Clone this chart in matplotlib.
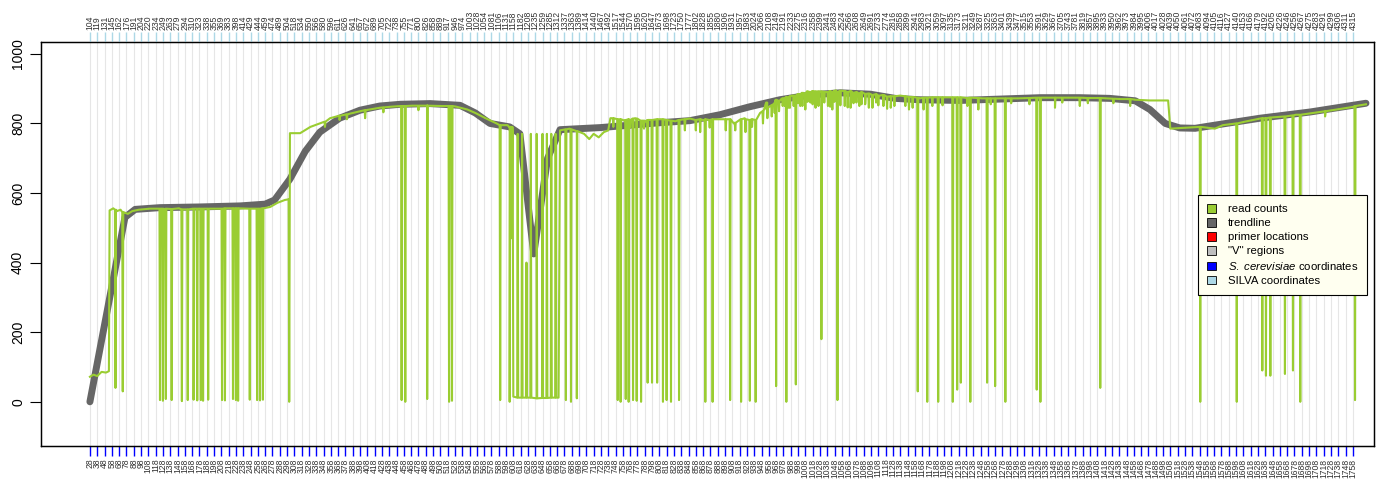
import numpy as np
import matplotlib.pyplot as plt
from matplotlib.patches import Patch

plt.rcParams['font.family'] = ['Liberation Sans', 'DejaVu Sans']
plt.rcParams['mathtext.fontset'] = 'custom'
plt.rcParams['mathtext.it'] = 'Liberation Sans:italic'
plt.rcParams['mathtext.rm'] = 'Liberation Sans'

# bottom axis: S. cerevisiae coordinates, top axis: SILVA coordinates
sc_ticks = list(range(28, 1759, 10))
silva_labels = [
    104, 119, 131, 145, 162, 176, 191, 204, 220, 234,
    249, 263, 279, 294, 310, 323, 338, 355, 369, 383,
    398, 414, 429, 444, 459, 474, 489, 504, 518, 534,
    550, 566, 580, 596, 611, 626, 641, 657, 672, 689,
    705, 722, 738, 755, 771, 800, 826, 858, 889, 917,
    946, 974, 1003, 1028, 1054, 1081, 1106, 1131, 1158, 1182,
    1208, 1235, 1259, 1285, 1312, 1337, 1363, 1389, 1414, 1440,
    1467, 1492, 1517, 1544, 1570, 1595, 1620, 1647, 1673, 1698,
    1723, 1750, 1777, 1802, 1828, 1855, 1880, 1906, 1931, 1957,
    1983, 2024, 2066, 2108, 2149, 2191, 2233, 2275, 2316, 2358,
    2399, 2441, 2483, 2524, 2566, 2608, 2649, 2691, 2733, 2774,
    2816, 2858, 2899, 2941, 2983, 3021, 3059, 3097, 3135, 3173,
    3211, 3249, 3287, 3325, 3363, 3401, 3439, 3477, 3515, 3553,
    3591, 3629, 3667, 3705, 3743, 3781, 3819, 3857, 3895, 3933,
    3950, 3962, 3973, 3984, 3995, 4006, 4017, 4028, 4039, 4050,
    4061, 4072, 4083, 4094, 4105, 4116, 4127, 4140, 4153, 4166,
    4179, 4192, 4205, 4226, 4246, 4256, 4267, 4275, 4283, 4291,
    4299, 4306, 4311, 4315,
]

# trendline
trend_x = [28, 76, 90, 124, 179, 234, 268, 281, 302, 323, 343, 370, 398, 425,
           453, 494, 535, 556, 576, 603, 617, 636, 655, 672, 699, 727, 768,
           809, 850, 891, 932, 973, 1015, 1056, 1097, 1131, 1165, 1220, 1275,
           1330, 1384, 1425, 1460, 1480, 1501, 1521, 1542, 1569, 1631, 1700, 1776]
trend_y = [0, 530, 553, 558, 560, 563, 568, 580, 640, 720, 775, 815, 838, 850,
           855, 857, 852, 830, 800, 790, 770, 425, 700, 782, 785, 788, 795,
           802, 808, 825, 848, 868, 882, 888, 884, 872, 868, 866, 870,
           874, 874, 872, 865, 840, 800, 787, 786, 795, 815, 833, 858]

# read counts: the running level
reads_x = [28, 33, 38, 44, 50, 54, 55, 60, 65, 70, 74, 80, 86, 95, 110, 130, 150,
           170, 200, 230, 260, 275, 285, 295, 300,
           302, 316, 330, 343, 357, 370, 384, 398, 411, 425, 440, 453, 470, 490,
           510, 530, 545, 556, 570, 585, 600, 603, 607,
           608, 640, 670,
           672, 685, 695, 705, 712, 718, 725, 732, 738,
           741, 760, 775, 790, 810, 830, 850, 870, 890, 910, 925, 946,
           960, 975, 990, 1010, 1030, 1050, 1070, 1090, 1110, 1125, 1138,
           1165, 1200, 1250, 1300, 1350, 1400, 1440, 1460, 1480, 1505,
           1508, 1569, 1580, 1610, 1640, 1680, 1720, 1760, 1776]
reads_y = [72, 78, 74, 86, 84, 88, 550, 556, 548, 552, 545, 540, 548, 552, 555, 550, 556,
           552, 555, 556, 555, 560, 572, 580, 582,
           772, 772, 790, 800, 815, 822, 828, 835, 840, 845, 848, 850, 851, 852,
           850, 848, 840, 830, 815, 800, 795, 790, 775,
           15, 10, 12,
           780, 785, 778, 770, 755, 770, 760, 775, 780,
           815, 808, 815, 805, 812, 806, 814, 808, 812, 800, 815, 830,
           850, 870, 880, 892, 890, 895, 888, 885, 880, 875, 880,
           872, 875, 872, 872, 874, 873, 870, 868, 866, 866,
           785, 785, 795, 805, 815, 825, 835, 848, 855]

# single positions where the read count jumps away from the level
drop_x = [63, 73, 124, 128, 132, 140, 154, 162, 170, 175, 180, 183, 190, 209,
          213, 224, 228, 231, 247, 257, 261, 265, 301,
          350, 370, 380, 405, 430, 455, 460, 478, 490, 520, 524, 590, 603,
          606, 614, 620, 626, 632, 640, 648, 654, 660, 666,
          680, 687, 695,
          745, 751, 755, 762, 766, 768, 772, 777, 783, 787, 792, 798, 805, 813,
          818, 824, 835, 843, 858, 864, 871, 877, 881, 899, 905, 912, 920, 926,
          932, 935, 940,
          950, 956, 962, 966, 972, 980, 985, 992, 998, 1004, 1011, 1018, 1026,
          1034, 1042, 1048, 1056, 1066, 1074, 1082, 1090, 1100, 1108, 1120, 1130,
          955, 968, 977, 982, 987, 995, 1001, 1008, 1015, 1022, 1030, 1039,
          1045, 1052, 1062, 1070, 1078, 1085, 1095, 1105, 1115, 1125,
          1145, 1155, 1170, 1182, 1196, 1230, 1262, 1290, 1315, 1360, 1395, 1430,
          1150, 1162, 1175, 1190, 1210, 1216, 1221, 1234, 1245, 1257, 1268,
          1282, 1325, 1330, 1350, 1384, 1412, 1453,
          1549, 1599, 1634, 1639, 1645, 1665, 1676, 1686, 1720, 1761]
drop_top = [552, 545, 555, 555, 555, 554, 553, 553, 555, 555, 555, 555, 555, 555,
            556, 556, 556, 556, 555, 555, 555, 556, 582,
            805, 822, 826, 838, 846, 850, 850, 851, 851, 850, 850, 795, 790,
            790, 12, 12, 12, 12, 10, 11, 11, 12, 12,
            783, 783, 778,
            815, 812, 812, 810, 812, 810, 814, 814, 808, 808, 810, 810, 812, 812,
            810, 808, 810, 812, 810, 812, 812, 810, 812, 812, 812, 802, 812, 812,
            810, 812, 810,
            835, 845, 852, 858, 865, 873, 875, 880, 884, 888, 892, 893, 892,
            891, 893, 894, 894, 890, 888, 886, 885, 882, 880, 877, 878,
            860, 868, 872, 876, 878, 880, 884, 886, 890, 892, 892, 890,
            890, 890, 893, 893, 890, 890, 886, 884, 882, 878,
            878, 876, 874, 875, 875, 873, 872, 872, 873, 874, 873, 871,
            876, 874, 874, 875, 875, 875, 875, 874, 873, 872, 872,
            872, 874, 874, 874, 874, 873, 870,
            790, 800, 815, 815, 817, 820, 823, 825, 835, 850]
drop_bottom = [40, 30, 5, 3, 8, 5, 2, 5, 6, 4, 5, 3, 6, 5,
               4, 8, 5, 3, 6, 5, 4, 6, 0,
               790, 810, 812, 815, 832, 5, 0, 838, 8, 0, 3, 5, 0,
               470, 770, 770, 400, 770, 770, 770, 770, 770, 770,
               5, 0, 10,
               790, 5, 0, 8, 0, 788, 5, 3, 0, 785, 55, 55, 55, 0,
               5, 0, 5, 780, 780, 775, 0, 788, 0, 780, 5, 780, 0, 775,
               3, 790, 0,
               800, 815, 820, 830, 835, 850, 845, 850, 858, 850, 862, 855, 850,
               860, 848, 862, 852, 846, 858, 850, 855, 845, 852, 842, 850,
               840, 45, 850, 0, 845, 50, 850, 840, 860, 845, 180, 850,
               840, 5, 850, 845, 860, 855, 845, 860, 850, 845,
               850, 845, 840, 850, 852, 850, 855, 858, 855, 860, 858, 858,
               840, 30, 0, 0, 0, 35, 55, 0, 840, 55, 45,
               0, 35, 0, 845, 850, 40, 850,
               0, 0, 90, 75, 75, 80, 90, 0, 820, 5]

# assemble the read-count path (drops are one position wide)
px = list(reads_x)
py = list(reads_y)
for x, t, b in zip(drop_x, drop_top, drop_bottom):
    px += [x - 0.7, x, x + 0.7]
    py += [t, b, t]
order = np.argsort(px, kind='stable')
px = np.array(px)[order]
py = np.array(py)[order]

fig = plt.figure(figsize=(13.76, 4.82), dpi=100)
ax = fig.add_axes([41 / 1376, 36 / 482, 1333 / 1376, 404 / 482])

for t in sc_ticks:
    ax.axvline(t, color='#e6e6e6', lw=0.8, zorder=0)

ax.plot(trend_x, trend_y, color='#666666', lw=5, solid_capstyle='round',
        solid_joinstyle='round', zorder=2)
ax.plot(px, py, color='#9acd32', lw=1.5, zorder=3)

ax.set_xlim(-39, 1787)
ax.set_ylim(-127, 1034)
ax.set_yticks([0, 200, 400, 600, 800, 1000])
ax.set_yticklabels(['0', '200', '400', '600', '800', '1000'], rotation=90,
                   va='center', fontsize=10)
ax.tick_params(axis='y', length=8, width=0.8)

ax.set_xticks(sc_ticks)
ax.set_xticklabels([str(v) for v in sc_ticks], rotation=90, fontsize=6.2,
                   color='#333333')
ax.tick_params(axis='x', length=7, width=1, color='blue', pad=2)

ax2 = ax.twiny()
ax2.set_xlim(ax.get_xlim())
ax2.set_xticks(sc_ticks)
ax2.set_xticklabels([str(v) for v in silva_labels], rotation=90, fontsize=6.2,
                    color='#333333')
ax2.tick_params(axis='x', length=7, width=1, color='#add8e6', pad=2)

for a in (ax, ax2):
    for s in a.spines.values():
        s.set_linewidth(0.9)

handles = [Patch(facecolor=c, edgecolor='black', lw=0.6) for c in
           ['#9acd32', '#666666', 'red', '#bebebe', 'blue', '#add8e6']]
labels = ['read counts', 'trendline', 'primer locations', '"V" regions',
          r'$\mathit{S.\ cerevisiae}$ coordinates', 'SILVA coordinates']
leg = fig.legend(handles, labels, loc='upper left',
                 bbox_to_anchor=(1198 / 1376, 1 - 195 / 482),
                 fontsize=8.2, frameon=True, fancybox=False,
                 facecolor='#fffff0', edgecolor='black', framealpha=1,
                 handlelength=0.8, handleheight=0.8, labelspacing=0.32,
                 borderpad=0.8, handletextpad=1.0, borderaxespad=0)
leg.get_frame().set_linewidth(0.8)
leg.set_zorder(10)

fig.savefig('out.png', dpi=100)
